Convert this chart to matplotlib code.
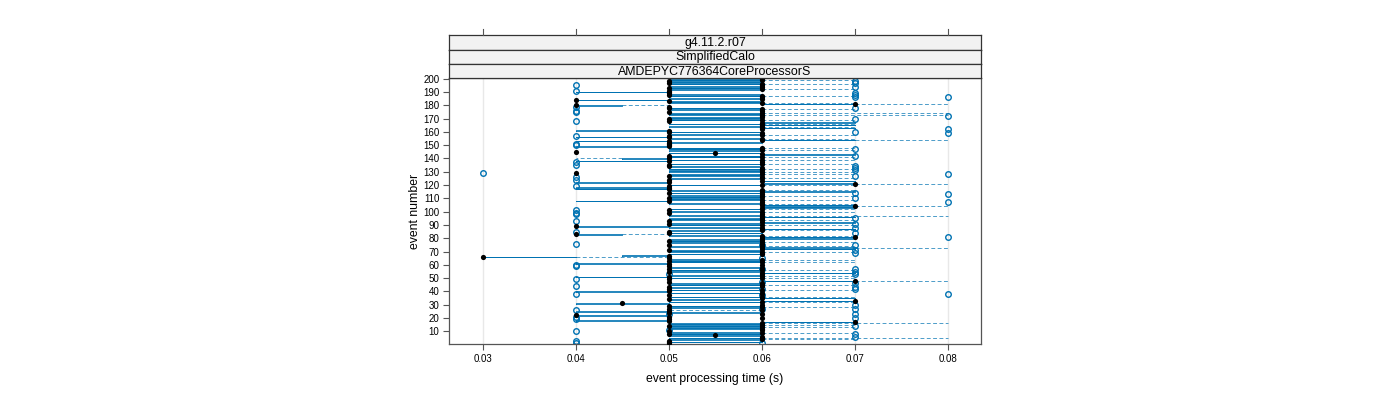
import matplotlib
matplotlib.use("Agg")
import matplotlib.pyplot as plt
from matplotlib.lines import Line2D
from matplotlib.transforms import blended_transform_factory

plt.rcParams['font.family'] = ['Liberation Sans', 'DejaVu Sans']

strip_labels = ["g4.11.2.r07", "SimplifiedCalo", "AMDEPYC776364CoreProcessorS"]
x_ticks = [0.03, 0.04, 0.05, 0.06, 0.07, 0.08]
x_tick_labels = ["0.03", "0.04", "0.05", "0.06", "0.07", "0.08"]
y_ticks = list(range(10, 201, 10))
events = list(range(1, 201))

# box statistics per event, in units of 0.01 s
q1 = [5, 5, 5, 5, 5, 6, 5, 5, 5, 5,
      6, 5, 5, 5, 5, 5, 6, 4, 5, 6,
      5, 4, 6, 5, 4, 6, 5, 5, 5, 6,
      4, 5, 6, 5, 6, 5, 5, 6, 5, 4,
      5, 5, 5, 6, 5, 5, 5, 6, 5, 5,
      4, 5, 6, 6, 5, 5, 5, 5, 5, 6,
      4, 5, 5, 5, 5, 3, 4.5, 5, 6, 5,
      5, 6, 6, 5, 5, 6, 5, 5, 5, 6,
      6, 5, 4, 5, 5, 5, 6, 5, 4, 5,
      5, 6, 5, 5, 5, 6, 5, 6, 5, 5,
      5, 5, 6, 6, 6, 5, 6, 4, 5, 5,
      5, 5, 6, 5, 6, 5, 4, 4, 5, 5,
      6, 4, 6, 5, 5, 6, 5, 5, 4, 5,
      5, 5, 6, 5, 5, 5, 6, 4, 5, 4.5,
      5, 5, 6, 5, 4, 5, 5, 5, 4, 5,
      5, 5, 4, 6, 5, 4, 5, 5, 6, 5,
      4, 6, 6, 5, 6, 5, 6, 5, 5, 5,
      5, 6, 5, 5, 5, 6, 5, 5, 5, 4,
      6, 5, 5, 4, 5, 6, 5, 5, 5, 4,
      5, 5, 5, 5, 6, 5, 5, 5, 5, 5]
q3 = [5, 6, 5, 6, 6, 6, 6, 6, 6, 5,
      6, 6, 6, 6, 6, 6, 7, 5, 5, 6,
      5, 5, 6, 6, 5, 6, 5, 6, 6, 6,
      5, 6, 7, 6, 7, 6, 5, 6, 6, 5,
      6, 5, 6, 6, 6, 6, 5, 7, 5, 6,
      5, 6, 6, 7, 6, 6, 5, 6, 5, 6,
      5, 6, 6, 6, 5, 4, 5, 6, 6, 6,
      6, 7, 7, 6, 5, 6, 6, 6, 6, 7,
      7, 6, 4.5, 6, 5, 6, 7, 6, 5, 6,
      6, 7, 5, 6, 6, 7, 6, 6, 5, 6,
      5, 6, 7, 7, 7, 6, 6, 5, 6, 6,
      6, 6, 6, 6, 7, 6, 5, 5, 5, 6,
      7, 5, 7, 5, 6, 6, 6, 6, 4, 6,
      6, 6, 6, 6, 5, 6, 6, 5, 6, 5,
      6, 6, 7, 6, 4, 6, 6, 6, 5, 5,
      5, 6, 5, 7, 6, 5, 5, 6, 6, 6,
      5, 6, 7, 6, 7, 6, 7, 5, 6, 6,
      6, 6, 6, 6, 5, 6, 6, 6, 5, 4.5,
      7, 6, 6, 5, 6, 6, 6, 6, 5, 5,
      5, 6, 6, 6, 6, 6, 6, 6, 6, 6]
med = [5, 5, 5, 6, 6, 6, 5.5, 5, 6, 5,
       6, 6, 6, 5, 6, 6, 7, 5, 5, 6,
       5, 4, 6, 5, 5, 6, 5, 6, 5, 6,
       4.5, 6, 7, 5, 6, 6, 5, 6, 6, 5,
       6, 5, 5, 6, 6, 6, 5, 7, 5, 6,
       5, 6, 6, 6, 5, 6, 5, 6, 5, 6,
       5, 6, 5, 6, 5, 3, 5, 6, 6, 6,
       5, 6, 6, 6, 5, 6, 6, 5, 6, 6,
       7, 6, 4, 5, 5, 6, 6, 6, 4, 6,
       5, 6, 5, 6, 6, 6, 6, 6, 5, 6,
       5, 6, 6, 7, 6, 6, 6, 5, 6, 5,
       6, 6, 6, 5, 6, 6, 5, 5, 5, 6,
       7, 5, 6, 5, 6, 6, 5, 6, 4, 6,
       6, 6, 6, 5, 5, 6, 6, 5, 6, 5,
       6, 5, 6, 5.5, 4, 6, 6, 6, 5, 5,
       5, 5, 5, 6, 6, 5, 5, 6, 6, 5,
       5, 6, 6, 6, 6, 6, 6, 5, 6, 5,
       6, 6, 6, 6, 5, 6, 6, 5, 5, 4,
       7, 6, 5, 4, 6, 6, 6, 5, 5, 5,
       5, 6, 5, 6, 6, 6, 5, 5, 6, 6]
wlo = [5, 5, 5, 5, 5, 6, 5, 5, 5, 5,
       6, 5, 5, 5, 5, 5, 6, 4, 5, 6,
       5, 4, 6, 5, 4, 5, 5, 5, 5, 6,
       4, 5, 6, 5, 6, 5, 5, 6, 5, 4,
       5, 5, 5, 6, 5, 5, 5, 6, 5, 5,
       4, 5, 6, 6, 5, 5, 5, 5, 5, 6,
       4, 5, 5, 5, 5, 3, 4.5, 5, 6, 5,
       5, 6, 6, 5, 5, 6, 5, 5, 5, 6,
       6, 5, 4, 5, 5, 5, 6, 5, 4, 5,
       5, 6, 5, 5, 5, 6, 5, 6, 5, 5,
       5, 5, 6, 6, 6, 5, 6, 4, 5, 5,
       5, 5, 6, 5, 6, 5, 4, 4, 5, 5,
       6, 4, 6, 5, 5, 6, 5, 5, 4, 5,
       5, 5, 6, 5, 5, 5, 6, 4, 5, 4,
       5, 5, 6, 5, 4, 5, 5, 5, 4, 5,
       5, 5, 4, 6, 5, 4, 5, 5, 6, 5,
       4, 6, 6, 5, 6, 5, 6, 5, 5, 5,
       5, 6, 5, 5, 5, 6, 5, 5, 5, 4,
       6, 5, 5, 4, 5, 6, 5, 5, 5, 4,
       5, 5, 5, 5, 6, 5, 5, 5, 5, 5]
whi = [5, 6, 5, 7, 8, 6, 6, 6, 7, 5,
       6, 6, 7, 6, 7, 8, 7, 5, 5, 6,
       5, 5, 6, 6, 5, 6, 5, 7, 6, 6,
       5, 7, 7, 6, 7, 7, 5, 6, 6, 5,
       7, 5, 6, 6, 7, 6, 5, 8, 5, 7,
       5, 7, 6, 7, 6, 7, 5, 6, 5, 6,
       5, 7, 6, 7, 5, 5, 5, 6, 6, 7,
       6, 7, 8, 7, 5, 6, 7, 6, 6, 7,
       7, 7, 5, 6, 5, 7, 7, 6, 5, 7,
       6, 7, 5, 7, 6, 7, 8, 6, 5, 7,
       5, 7, 7, 8, 7, 7, 6, 5, 7, 6,
       6, 7, 6, 6, 7, 7, 5, 5, 5, 7,
       8, 5, 7, 5, 7, 6, 6, 7, 4, 7,
       6, 7, 6, 6, 5, 7, 6, 5, 7, 5,
       7, 6, 7, 6, 4, 7, 6, 7, 5, 5,
       5, 6, 5, 8, 7, 5, 5, 7, 6, 6,
       5, 6, 7, 7, 7, 7, 7, 5, 7, 6,
       6, 6, 8, 8, 5, 6, 7, 6, 5, 5,
       8, 7, 6, 5, 6, 6, 7, 6, 5, 5,
       5, 7, 6, 6, 6, 7, 6, 6, 7, 6]
# outlying measurements: (event, value in 0.01 s)
outliers = [(1, 4), (1, 6), (3, 4), (6, 7), (8, 7), (10, 4), (11, 5), (14, 7),
            (19, 4), (20, 7), (21, 4), (23, 5), (23, 7), (26, 4), (27, 6),
            (27, 7), (30, 7), (37, 6), (38, 4), (38, 8), (42, 6), (42, 7),
            (43, 7), (44, 4), (46, 7), (47, 6), (49, 4), (53, 5), (53, 7),
            (55, 7), (57, 6), (57, 7), (59, 4), (60, 4), (65, 6), (69, 7),
            (71, 7), (75, 6), (75, 7), (76, 4), (81, 8), (84, 7), (85, 4),
            (88, 7), (91, 7), (93, 4), (95, 7), (98, 4), (99, 4), (101, 4),
            (107, 8), (110, 7), (113, 8), (114, 7), (119, 4), (124, 4),
            (126, 4), (127, 7), (128, 8), (129, 3), (131, 7), (133, 7),
            (134, 7), (135, 4), (137, 4), (142, 7), (147, 7), (150, 4),
            (151, 4), (157, 4), (159, 8), (160, 7), (162, 8), (168, 4),
            (170, 7), (172, 8), (175, 4), (176, 4), (178, 7), (179, 4),
            (186, 7), (186, 8), (188, 7), (189, 7), (191, 4), (194, 7),
            (195, 4), (197, 7), (198, 7)]

blue = "#0072B2"

fig = plt.figure(figsize=(14, 4), dpi=100)
W, H = 1400, 400
pl, pr, pt, pb = 449, 981, 78, 344
ax = fig.add_axes([pl / W, 1 - pb / H, (pr - pl) / W, (pb - pt) / H])

stats = []
for i, e in enumerate(events):
    fl = [v / 100 for (oe, v) in outliers if oe == e]
    stats.append(dict(med=med[i] / 100, q1=q1[i] / 100, q3=q3[i] / 100,
                      whislo=wlo[i] / 100, whishi=whi[i] / 100, fliers=fl))

ax.bxp(stats, positions=events, widths=0.4, orientation='horizontal',
       manage_ticks=False, showcaps=False,
       boxprops=dict(color=blue, lw=0.6),
       whiskerprops=dict(color=blue, lw=0.7, ls=(0, (4, 2.5)), alpha=0.7),
       medianprops=dict(visible=False),
       flierprops=dict(marker='o', mfc='none', mec=blue, ms=4, mew=1.0, ls='none'))
ax.scatter([m / 100 for m in med], events, s=14, c='black', zorder=4, lw=0)

for xt in x_ticks:
    ax.axvline(xt, color='#e8e8e8', lw=1, zorder=0)

ax.set_xlim(0.0264, 0.0835)
ax.set_ylim(0.5, 200.5)
ax.set_xticks(x_ticks)
ax.set_xticklabels(x_tick_labels, fontsize=7)
ax.set_yticks(y_ticks)
ax.set_yticklabels([str(t) for t in y_ticks], fontsize=7)
ax.tick_params(length=4, width=0.8, color='#555555', pad=3)
for s in ax.spines.values():
    s.set_color('#555555')
    s.set_linewidth(0.9)
ax.set_xlabel("event processing time (s)", fontsize=8.8, labelpad=7)
ax.set_ylabel("event number", fontsize=8.8, labelpad=1.5)

# strips
strip_h = 14.2
for k, lab in enumerate(strip_labels):
    top = pt - strip_h * (3 - k)
    sax = fig.add_axes([pl / W, 1 - (top + strip_h) / H, (pr - pl) / W, strip_h / H])
    sax.set_facecolor('#f2f2f2')
    sax.set_xticks([])
    sax.set_yticks([])
    for s in sax.spines.values():
        s.set_color('#333333')
        s.set_linewidth(0.9)
    sax.text(0.5, 0.45, lab, ha='center', va='center', fontsize=8.9,
             transform=sax.transAxes)

# top ticks above strips
tr = blended_transform_factory(ax.transData, fig.transFigure)
top_y = 1 - (pt - 3 * strip_h) / H
for xt in x_ticks:
    fig.add_artist(Line2D([xt, xt], [top_y, top_y + 6 / H], transform=tr,
                          color='#555555', lw=0.8))

fig.savefig("out.png", dpi=100)
